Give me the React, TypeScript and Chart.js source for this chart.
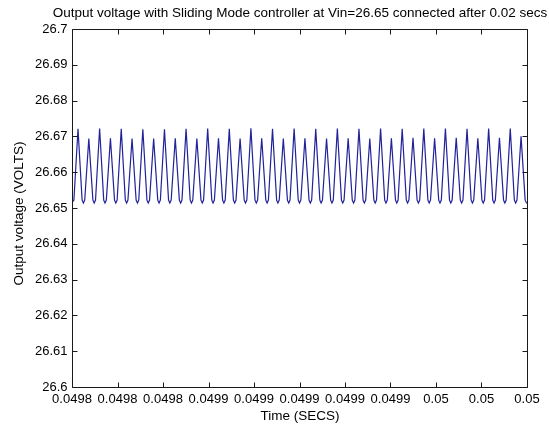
import { useEffect, useRef } from "react";
import { Chart, registerables } from "chart.js";

Chart.register(...registerables);

// Sample times (s)
const timeValues: number[] = [
  0.0498, 0.04980084,
  0.04980264, 0.04980444, 0.04980501, 0.04980559,
  0.04980739, 0.04980919, 0.04980976, 0.04981034,
  0.04981214, 0.04981394, 0.04981451, 0.04981509,
  0.04981689, 0.04981869, 0.04981926, 0.04981984,
  0.04982164, 0.04982344, 0.04982401, 0.04982459,
  0.04982639, 0.04982819, 0.04982876, 0.04982934,
  0.04983114, 0.04983294, 0.04983351, 0.04983409,
  0.04983589, 0.04983769, 0.04983826, 0.04983884,
  0.04984064, 0.04984244, 0.04984301, 0.04984359,
  0.04984539, 0.04984719, 0.04984776, 0.04984834,
  0.04985014, 0.04985194, 0.04985251, 0.04985309,
  0.04985489, 0.04985669, 0.04985726, 0.04985784,
  0.04985964, 0.04986144, 0.04986201, 0.04986259,
  0.04986439, 0.04986619, 0.04986676, 0.04986734,
  0.04986914, 0.04987094, 0.04987151, 0.04987209,
  0.04987389, 0.04987569, 0.04987626, 0.04987684,
  0.04987864, 0.04988044, 0.04988101, 0.04988159,
  0.04988339, 0.04988519, 0.04988576, 0.04988634,
  0.04988814, 0.04988994, 0.04989051, 0.04989109,
  0.04989289, 0.04989469, 0.04989526, 0.04989584,
  0.04989764, 0.04989944, 0.04990001, 0.04990059,
  0.04990239, 0.04990419, 0.04990476, 0.04990534,
  0.04990714, 0.04990894, 0.04990951, 0.04991009,
  0.04991189, 0.04991369, 0.04991426, 0.04991484,
  0.04991664, 0.04991844, 0.04991901, 0.04991959,
  0.04992139, 0.04992319, 0.04992376, 0.04992434,
  0.04992614, 0.04992794, 0.04992851, 0.04992909,
  0.04993089, 0.04993269, 0.04993326, 0.04993384,
  0.04993564, 0.04993744, 0.04993801, 0.04993859,
  0.04994039, 0.04994219, 0.04994276, 0.04994334,
  0.04994514, 0.04994694, 0.04994751, 0.04994809,
  0.04994989, 0.04995169, 0.04995226, 0.04995284,
  0.04995464, 0.04995644, 0.04995701, 0.04995759,
  0.04995939, 0.04996119, 0.04996176, 0.04996234,
  0.04996414, 0.04996594, 0.04996651, 0.04996709,
  0.04996889, 0.04997069, 0.04997126, 0.04997184,
  0.04997364, 0.04997544, 0.04997601, 0.04997659,
  0.04997839, 0.04998019, 0.04998076, 0.04998134,
  0.04998314, 0.04998494, 0.04998551, 0.04998609,
  0.04998789, 0.04998969, 0.04999026, 0.04999084,
  0.04999264, 0.04999444, 0.04999501, 0.04999559,
  0.04999739, 0.04999919, 0.04999976, 0.05,
];

// Output voltage (V)
const voltageValues: number[] = [
  26.6515, 26.6522,
  26.6721, 26.6522, 26.6514, 26.6522,
  26.6694, 26.6522, 26.6514, 26.6522,
  26.6722, 26.6522, 26.6514, 26.6522,
  26.6695, 26.6522, 26.6514, 26.6522,
  26.6721, 26.6522, 26.6514, 26.6522,
  26.6694, 26.6522, 26.6514, 26.6522,
  26.672, 26.6522, 26.6514, 26.6522,
  26.6694, 26.6522, 26.6514, 26.6522,
  26.672, 26.6522, 26.6514, 26.6522,
  26.6695, 26.6522, 26.6514, 26.6522,
  26.6721, 26.6522, 26.6514, 26.6522,
  26.6694, 26.6522, 26.6514, 26.6522,
  26.6722, 26.6522, 26.6514, 26.6522,
  26.6695, 26.6522, 26.6514, 26.6522,
  26.6721, 26.6522, 26.6514, 26.6522,
  26.6694, 26.6522, 26.6514, 26.6522,
  26.6723, 26.6522, 26.6514, 26.6522,
  26.6695, 26.6522, 26.6514, 26.6522,
  26.6721, 26.6522, 26.6514, 26.6522,
  26.6694, 26.6522, 26.6514, 26.6522,
  26.6722, 26.6522, 26.6514, 26.6522,
  26.6695, 26.6522, 26.6514, 26.6522,
  26.6721, 26.6522, 26.6514, 26.6522,
  26.6694, 26.6522, 26.6514, 26.6522,
  26.6722, 26.6522, 26.6514, 26.6522,
  26.6695, 26.6522, 26.6514, 26.6522,
  26.6721, 26.6522, 26.6514, 26.6522,
  26.6694, 26.6522, 26.6514, 26.6522,
  26.6722, 26.6522, 26.6514, 26.6522,
  26.6695, 26.6522, 26.6514, 26.6522,
  26.6721, 26.6522, 26.6514, 26.6522,
  26.6696, 26.6522, 26.6514, 26.6522,
  26.6722, 26.6522, 26.6514, 26.6522,
  26.6695, 26.6522, 26.6514, 26.6522,
  26.6722, 26.6522, 26.6514, 26.6522,
  26.6696, 26.6522, 26.6514, 26.6522,
  26.6721, 26.6522, 26.6514, 26.6522,
  26.6695, 26.6522, 26.6514, 26.6522,
  26.6722, 26.6522, 26.6514, 26.6522,
  26.6696, 26.6522, 26.6514, 26.6522,
  26.6722, 26.6522, 26.6514, 26.6522,
  26.67, 26.6522, 26.6514, 26.6515,
];

const xTicks: number[] = [0.0498, 0.04982, 0.04984, 0.04986, 0.04988, 0.0499, 0.04992, 0.04994, 0.04996, 0.04998, 0.05];
const xTickLabels: string[] = ["0.0498", "0.0498", "0.0498", "0.0499", "0.0499", "0.0499", "0.0499", "0.0499", "0.05", "0.05", "0.05"];
const yTicks: number[] = [26.6, 26.61, 26.62, 26.63, 26.64, 26.65, 26.66, 26.67, 26.68, 26.69, 26.7];
const yTickLabels: string[] = ["26.6", "26.61", "26.62", "26.63", "26.64", "26.65", "26.66", "26.67", "26.68", "26.69", "26.7"];

const titleText = "Output voltage with Sliding Mode controller at Vin=26.65 connected after 0.02 secs";
const xTitle = "Time (SECS)";
const yTitle = "Output voltage (VOLTS)";

const FONT = '"Liberation Sans", Arial, Helvetica, sans-serif';

export default function App() {
  const ref = useRef<HTMLCanvasElement>(null);

  useEffect(() => {
    document.body.style.margin = "0";
    document.body.style.background = "#ffffff";
    const canvas = ref.current;
    if (!canvas) return;

    const framePlugin = {
      id: "matlabFrame",
      afterDraw(chart: any) {
        const ctx = chart.ctx as CanvasRenderingContext2D;
        const { left, right, top, bottom } = chart.chartArea;
        const xs = chart.scales.x;
        const ys = chart.scales.y;
        const L = Math.round(left) + 0.5;
        const R = Math.round(right) + 0.5;
        const T = Math.round(top) + 0.5;
        const B = Math.round(bottom) + 0.5;
        ctx.save();
        ctx.strokeStyle = "#1a1a1a";
        ctx.lineWidth = 1;
        ctx.beginPath();
        ctx.rect(L, T, R - L, B - T);
        ctx.stroke();

        const tl = 5;
        ctx.beginPath();
        xTicks.forEach((v) => {
          const px = Math.round(xs.getPixelForValue(v)) + 0.5;
          ctx.moveTo(px, B);
          ctx.lineTo(px, B - tl);
          ctx.moveTo(px, T);
          ctx.lineTo(px, T + tl);
        });
        yTicks.forEach((v) => {
          const py = Math.round(ys.getPixelForValue(v)) + 0.5;
          ctx.moveTo(L, py);
          ctx.lineTo(L + tl, py);
          ctx.moveTo(R, py);
          ctx.lineTo(R - tl, py);
        });
        ctx.stroke();

        ctx.fillStyle = "#000000";
        ctx.font = "13px " + FONT;
        ctx.textAlign = "center";
        ctx.textBaseline = "middle";
        xTicks.forEach((v, i) => {
          ctx.fillText(xTickLabels[i], xs.getPixelForValue(v), B + 12);
        });
        ctx.textAlign = "right";
        yTicks.forEach((v, i) => {
          ctx.fillText(yTickLabels[i], L - 5, ys.getPixelForValue(v));
        });

        ctx.font = "13.5px " + FONT;
        ctx.textAlign = "center";
        ctx.fillText(titleText, (L + R) / 2, 13);
        ctx.fillText(xTitle, (L + R) / 2, 416);

        ctx.translate(19, (T + B) / 2 + 5);
        ctx.rotate(-Math.PI / 2);
        ctx.fillText(yTitle, 0, 0);
        ctx.restore();
      },
    };

    const chart = new Chart(canvas, {
      type: "line",
      data: {
        datasets: [
          {
            data: timeValues.map((t, i) => ({ x: t, y: voltageValues[i] })),
            borderColor: "#22229a",
            borderWidth: 1.2,
            pointRadius: 0,
            tension: 0,
            fill: false,
          },
        ],
      },
      options: {
        animation: false,
        responsive: false,
        maintainAspectRatio: false,
        layout: { padding: { top: 29, right: 22, left: 0, bottom: 0 } },
        plugins: { legend: { display: false }, tooltip: { enabled: false }, title: { display: false } },
        scales: {
          x: {
            type: "linear",
            min: 0.0498,
            max: 0.05,
            grid: { display: false, drawTicks: false },
            border: { display: false },
            ticks: { display: false },
            afterFit: (s: any) => {
              s.height = 40;
            },
          },
          y: {
            type: "linear",
            min: 26.6,
            max: 26.7,
            grid: { display: false, drawTicks: false },
            border: { display: false },
            ticks: { display: false },
            afterFit: (s: any) => {
              s.width = 72;
            },
          },
        },
      },
      plugins: [framePlugin],
    } as any);

    return () => chart.destroy();
  }, []);

  return (
    <div style={{ width: 549, height: 427, background: "#ffffff" }}>
      <canvas ref={ref} width={549} height={427} style={{ display: "block" }} />
    </div>
  );
}
